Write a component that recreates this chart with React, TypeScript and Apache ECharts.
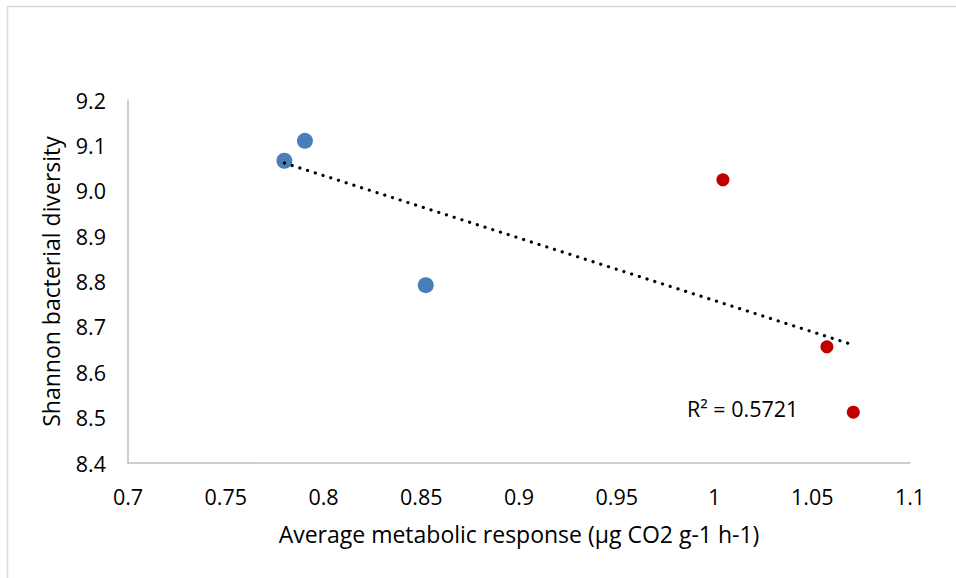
import React, { useEffect, useRef } from "react";
import * as echarts from "echarts";

const blueX = [0.780, 0.7905, 0.8523];
const blueY = [9.066, 9.110, 8.792];
const redX = [1.0043, 1.0575, 1.071];
const redY = [9.024, 8.656, 8.512];
const r2Label = "R² = 0.5721";
const xTitle = "Average metabolic response (µg CO2 g-1 h-1)";
const yTitle = "Shannon bacterial diversity";

const FONT = "'Open Sans', sans-serif";

function regression(xs: number[], ys: number[]) {
  const n = xs.length;
  const mx = xs.reduce((a, b) => a + b, 0) / n;
  const my = ys.reduce((a, b) => a + b, 0) / n;
  let sxy = 0;
  let sxx = 0;
  for (let i = 0; i < n; i++) {
    sxy += (xs[i] - mx) * (ys[i] - my);
    sxx += (xs[i] - mx) * (xs[i] - mx);
  }
  const slope = sxy / sxx;
  return { slope, intercept: my - slope * mx };
}

export default function App() {
  const ref = useRef<HTMLDivElement>(null);
  useEffect(() => {
    if (!ref.current) return;
    const chart = echarts.init(ref.current, null, { renderer: "svg" });
    const allX = [...blueX, ...redX];
    const allY = [...blueY, ...redY];
    const { slope, intercept } = regression(allX, allY);
    const x0 = Math.min(...allX);
    const x1 = Math.max(...allX);
    const trend = [
      [x0, intercept + slope * x0],
      [x1, intercept + slope * x1],
    ];
    chart.setOption({
      animation: false,
      backgroundColor: "#ffffff",
      textStyle: { fontFamily: FONT },
      grid: { left: 128, right: 46, top: 100, bottom: 115, containLabel: false },
      xAxis: {
        type: "value",
        min: 0.7,
        max: 1.1,
        interval: 0.05,
        name: xTitle,
        nameLocation: "middle",
        nameGap: 59,
        nameTextStyle: { fontFamily: FONT, fontSize: 23, color: "#000" },
        axisLine: { show: true, lineStyle: { color: "#bfbfbf", width: 1.5 } },
        axisTick: { show: false },
        splitLine: { show: false },
        axisLabel: {
          margin: 22,
          fontFamily: FONT,
          fontSize: 21.5,
          color: "#000",
          formatter: (v: number) => String(parseFloat(v.toFixed(2))),
        },
      },
      yAxis: {
        type: "value",
        min: 8.4,
        max: 9.2,
        interval: 0.1,
        name: yTitle,
        nameLocation: "middle",
        nameRotate: 90,
        nameGap: 66,
        nameTextStyle: { fontFamily: FONT, fontSize: 23, color: "#000" },
        axisLine: { show: true, lineStyle: { color: "#bfbfbf", width: 1.5 } },
        axisTick: { show: false },
        splitLine: { show: false },
        axisLabel: {
          margin: 22,
          fontFamily: FONT,
          fontSize: 21.5,
          color: "#000",
          formatter: (v: number) => v.toFixed(1),
        },
      },
      graphic: [
        {
          type: "rect",
          shape: { x: 7.5, y: 6.5, width: 1200, height: 1200 },
          style: { fill: "none", stroke: "#d9d9d9", lineWidth: 1.5 },
          silent: true,
          z: 0,
        },
        {
          type: "text",
          left: 687,
          top: 397,
          style: { text: r2Label, font: `21.5px ${FONT}`, fill: "#000" },
          z: 10,
        },
      ],
      series: [
        {
          type: "line",
          data: trend,
          symbol: "none",
          lineStyle: { color: "#000", width: 3.2, type: [0.1, 8], cap: "round", opacity: 1 },
          z: 3,
        },
        {
          type: "scatter",
          data: blueX.map((x, i) => [x, blueY[i]]),
          symbol: "circle",
          symbolSize: 16,
          itemStyle: { color: "#4a7ebb", opacity: 1 },
          z: 2,
        },
        {
          type: "scatter",
          data: redX.map((x, i) => [x, redY[i]]),
          symbol: "circle",
          symbolSize: 13,
          itemStyle: { color: "#c00000", opacity: 1 },
          z: 2,
        },
      ],
    });
    return () => chart.dispose();
  }, []);
  return (
    <div
      ref={ref}
      style={{ position: "absolute", left: 0, top: 0, width: 956, height: 578 }}
    />
  );
}
